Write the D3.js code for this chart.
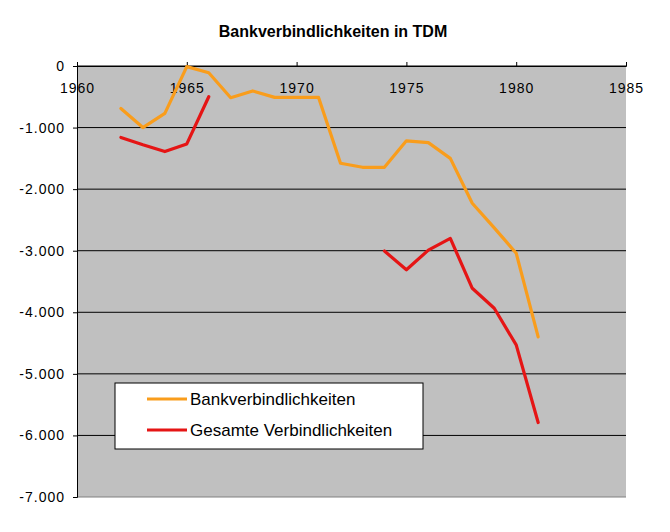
<!DOCTYPE html>
<html>
<head>
<meta charset="utf-8">
<script src="https://cdn.jsdelivr.net/npm/d3@7"></script>
<style>
  body { margin: 0; background: #fff; }
  text { font-family: "Liberation Sans", Arial, sans-serif; }
</style>
</head>
<body>
<svg id="chart"></svg>
<script>
var years = [1962, 1963, 1964, 1965, 1966, 1967, 1968, 1969, 1970, 1971,
             1972, 1973, 1974, 1975, 1976, 1977, 1978, 1979, 1980, 1981];
// null = no value for that year
var bank = [-690, -1000, -770, -10, -110, -515, -405, -510, -510, -510,
            -1580, -1645, -1645, -1215, -1245, -1500, -2230, -2630, -3040, -4400];
var gesamt = [-1160, -1280, -1390, -1265, -500, null, null, null, null, null,
              null, null, -3005, -3310, -2990, -2800, -3610, -3935, -4530, -5790];
var seriesNames = ["Bankverbindlichkeiten", "Gesamte Verbindlichkeiten"];
var seriesColors = ["#F99D1C", "#E51515"];
var xTicks = [1960, 1965, 1970, 1975, 1980, 1985];
var yTicks = [0, -1000, -2000, -3000, -4000, -5000, -6000, -7000];

var W = 670, H = 532;
var pLeft = 77, pRight = 626, pTop = 66, pBottom = 497;

var svg = d3.select("#chart").attr("width", W).attr("height", H);

var x = d3.scaleLinear().domain([1960, 1985]).range([pLeft, pRight]);
var y = d3.scaleLinear().domain([-7000, 0]).range([pBottom, pTop]);

// plot background
svg.append("rect")
  .attr("x", pLeft).attr("y", pTop)
  .attr("width", pRight - pLeft).attr("height", pBottom - pTop)
  .attr("fill", "#C0C0C0");

// horizontal gridlines
svg.selectAll(".grid")
  .data(yTicks.filter(function(d) { return d > -7000; }))
  .enter().append("line")
    .attr("x1", pLeft).attr("x2", pRight)
    .attr("y1", function(d) { return y(d); })
    .attr("y2", function(d) { return y(d); })
    .attr("stroke", "#000").attr("stroke-width", 1);

// bottom edge
svg.append("line")
  .attr("x1", pLeft).attr("x2", pRight)
  .attr("y1", pBottom).attr("y2", pBottom)
  .attr("stroke", "#808080");

// y axis
var fmt = function(d) {
  if (d === 0) return "0";
  return "-" + d3.format(",")(-d).replace(/,/g, ".");
};
var yAxis = d3.axisLeft(y).tickValues(yTicks).tickSize(4).tickPadding(8).tickFormat(fmt);
var gy = svg.append("g").attr("transform", "translate(" + pLeft + ",0)").call(yAxis);
gy.select(".domain").attr("stroke", "#000");
gy.selectAll("text").attr("font-size", 14).attr("fill", "#000")
  .attr("font-family", "Liberation Sans, Arial, sans-serif")
  .attr("letter-spacing", 1);

// x axis at value 0 (top), ticks up, labels below
var xAxis = d3.axisTop(x).tickValues(xTicks).tickSize(4).tickFormat(d3.format("d"));
var gx = svg.append("g").attr("transform", "translate(0," + y(0) + ")").call(xAxis);
gx.select(".domain").attr("stroke", "#000");
gx.selectAll("text").attr("font-size", 14).attr("fill", "#000")
  .attr("font-family", "Liberation Sans, Arial, sans-serif")
  .attr("letter-spacing", 1)
  .attr("y", 27).attr("dy", 0);

// lines
var line = d3.line()
  .defined(function(d) { return d.v !== null; })
  .x(function(d) { return x(d.year); })
  .y(function(d) { return y(d.v); });

[bank, gesamt].forEach(function(vals, i) {
  var pts = years.map(function(yr, j) { return { year: yr, v: vals[j] }; });
  svg.append("path")
    .datum(pts)
    .attr("d", line)
    .attr("fill", "none")
    .attr("stroke", seriesColors[i])
    .attr("stroke-width", 3.2)
    .attr("stroke-linejoin", "round")
    .attr("stroke-linecap", "round");
});

// title
svg.append("text")
  .attr("x", 333).attr("y", 37)
  .attr("text-anchor", "middle")
  .attr("font-size", 16).attr("font-weight", "bold")
  .text("Bankverbindlichkeiten in TDM");

// legend
var lg = svg.append("g").attr("transform", "translate(115,383)");
lg.append("rect")
  .attr("width", 308).attr("height", 66)
  .attr("fill", "#fff").attr("stroke", "#000");
var items = lg.selectAll(".item")
  .data(seriesNames)
  .enter().append("g")
    .attr("transform", function(d, i) { return "translate(0," + (16 + i * 31) + ")"; });
items.append("line")
  .attr("x1", 32).attr("x2", 72)
  .attr("stroke", function(d, i) { return seriesColors[i]; })
  .attr("stroke-width", 3.2);
items.append("text")
  .attr("x", 75).attr("dy", "0.35em")
  .attr("font-size", 17)
  .text(function(d) { return d; });
</script>
</body>
</html>
